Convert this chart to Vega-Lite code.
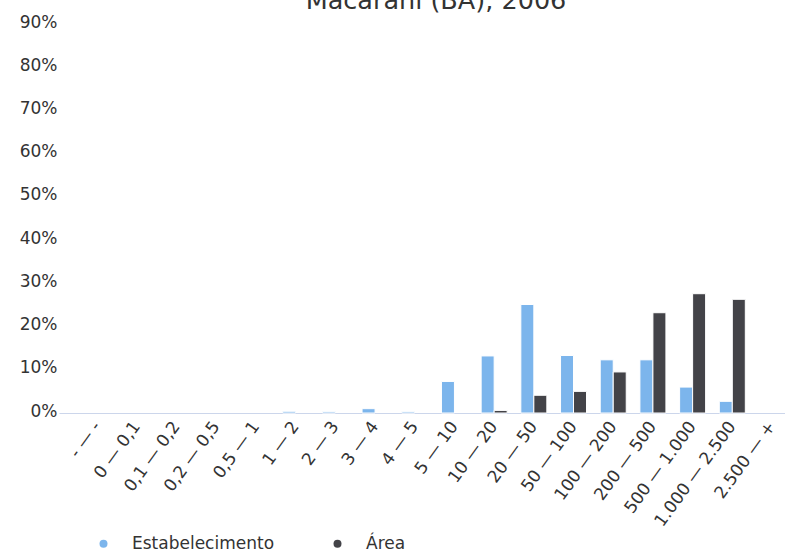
{
  "$schema": "https://vega.github.io/schema/vega-lite/v6.json",
  "autosize": {"type": "none"},
  "width": 726,
  "height": 389,
  "padding": {"left": 59, "top": 24, "right": 0, "bottom": 139},
  "background": "white",
  "config": {
    "view": {"stroke": null},
    "font": "DejaVu Sans"
  },
  "title": {
    "text": "Macarani (BA), 2006",
    "fontSize": 25.5,
    "fontWeight": "normal",
    "color": "#333333",
    "anchor": "middle",
    "frame": "group",
    "baseline": "alphabetic",
    "offset": -21,
    "dx": 14
  },
  "data": {
    "values": [
      {"faixa": "-  —  -", "serie": "Estabelecimento", "valor": 0},
      {"faixa": "-  —  -", "serie": "Área", "valor": 0},
      {"faixa": "0 — 0,1", "serie": "Estabelecimento", "valor": 0},
      {"faixa": "0 — 0,1", "serie": "Área", "valor": 0},
      {"faixa": "0,1 — 0,2", "serie": "Estabelecimento", "valor": 0},
      {"faixa": "0,1 — 0,2", "serie": "Área", "valor": 0},
      {"faixa": "0,2 — 0,5", "serie": "Estabelecimento", "valor": 0},
      {"faixa": "0,2 — 0,5", "serie": "Área", "valor": 0},
      {"faixa": "0,5 — 1", "serie": "Estabelecimento", "valor": 0},
      {"faixa": "0,5 — 1", "serie": "Área", "valor": 0},
      {"faixa": "1 — 2", "serie": "Estabelecimento", "valor": 0.4},
      {"faixa": "1 — 2", "serie": "Área", "valor": 0},
      {"faixa": "2 — 3", "serie": "Estabelecimento", "valor": 0.3},
      {"faixa": "2 — 3", "serie": "Área", "valor": 0},
      {"faixa": "3 — 4", "serie": "Estabelecimento", "valor": 1.0},
      {"faixa": "3 — 4", "serie": "Área", "valor": 0},
      {"faixa": "4 — 5", "serie": "Estabelecimento", "valor": 0.3},
      {"faixa": "4 — 5", "serie": "Área", "valor": 0},
      {"faixa": "5 — 10", "serie": "Estabelecimento", "valor": 7.3},
      {"faixa": "5 — 10", "serie": "Área", "valor": 0},
      {"faixa": "10 — 20", "serie": "Estabelecimento", "valor": 13.2},
      {"faixa": "10 — 20", "serie": "Área", "valor": 0.6},
      {"faixa": "20 — 50", "serie": "Estabelecimento", "valor": 25.1},
      {"faixa": "20 — 50", "serie": "Área", "valor": 4.1},
      {"faixa": "50 — 100", "serie": "Estabelecimento", "valor": 13.3},
      {"faixa": "50 — 100", "serie": "Área", "valor": 5.0},
      {"faixa": "100 — 200", "serie": "Estabelecimento", "valor": 12.3},
      {"faixa": "100 — 200", "serie": "Área", "valor": 9.5},
      {"faixa": "200 — 500", "serie": "Estabelecimento", "valor": 12.3},
      {"faixa": "200 — 500", "serie": "Área", "valor": 23.2},
      {"faixa": "500 — 1.000", "serie": "Estabelecimento", "valor": 6.0},
      {"faixa": "500 — 1.000", "serie": "Área", "valor": 27.6},
      {"faixa": "1.000 — 2.500", "serie": "Estabelecimento", "valor": 2.7},
      {"faixa": "1.000 — 2.500", "serie": "Área", "valor": 26.3},
      {"faixa": "2.500 — +", "serie": "Estabelecimento", "valor": 0},
      {"faixa": "2.500 — +", "serie": "Área", "valor": 0}
    ]
  },
  "mark": {"type": "bar", "stroke": "white", "strokeWidth": 1},
  "encoding": {
    "x": {
      "field": "faixa",
      "type": "nominal",
      "sort": ["-  —  -", "0 — 0,1", "0,1 — 0,2", "0,2 — 0,5", "0,5 — 1", "1 — 2", "2 — 3", "3 — 4", "4 — 5", "5 — 10", "10 — 20", "20 — 50", "50 — 100", "100 — 200", "200 — 500", "500 — 1.000", "1.000 — 2.500", "2.500 — +"],
      "scale": {"paddingInner": 0.345, "paddingOuter": 0.3175, "align": 1},
      "axis": {
        "title": null,
        "ticks": false,
        "domainColor": "#ccd6eb",
        "domainWidth": 1,
        "labelAngle": -54,
        "labelAlign": "right",
        "labelBaseline": "middle",
        "labelPadding": 10,
        "labelFontSize": 17,
        "labelColor": "#333333",
        "labelFont": "DejaVu Sans",
        "labelOverlap": false,
        "labelLimit": 300
      }
    },
    "xOffset": {
      "field": "serie",
      "type": "nominal",
      "sort": ["Estabelecimento", "Área"],
      "scale": {"paddingInner": 0, "paddingOuter": 0}
    },
    "y": {
      "field": "valor",
      "type": "quantitative",
      "scale": {"domain": [0, 90], "nice": false},
      "axis": {
        "title": null,
        "values": [0, 10, 20, 30, 40, 50, 60, 70, 80, 90],
        "labelExpr": "datum.value + '%'",
        "ticks": false,
        "domain": false,
        "grid": false,
        "labelPadding": 2,
        "labelOffset": -2,
        "labelFontSize": 17,
        "labelColor": "#333333",
        "labelFont": "DejaVu Sans"
      }
    },
    "color": {
      "field": "serie",
      "type": "nominal",
      "sort": ["Estabelecimento", "Área"],
      "scale": {"domain": ["Estabelecimento", "Área"], "range": ["#7cb5ec", "#434348"]},
      "legend": {
        "title": null,
        "orient": "none",
        "direction": "horizontal",
        "legendX": 36,
        "legendY": 511,
        "symbolType": "circle",
        "symbolSize": 64,
        "symbolStrokeWidth": 0,
        "labelFontSize": 17,
        "labelColor": "#333333",
        "labelFont": "DejaVu Sans",
        "labelOffset": 20,
        "columnPadding": 54,
        "padding": 0
      }
    },
    "opacity": {
      "condition": {"test": "datum.valor > 0", "value": 1},
      "value": 0
    }
  }
}
